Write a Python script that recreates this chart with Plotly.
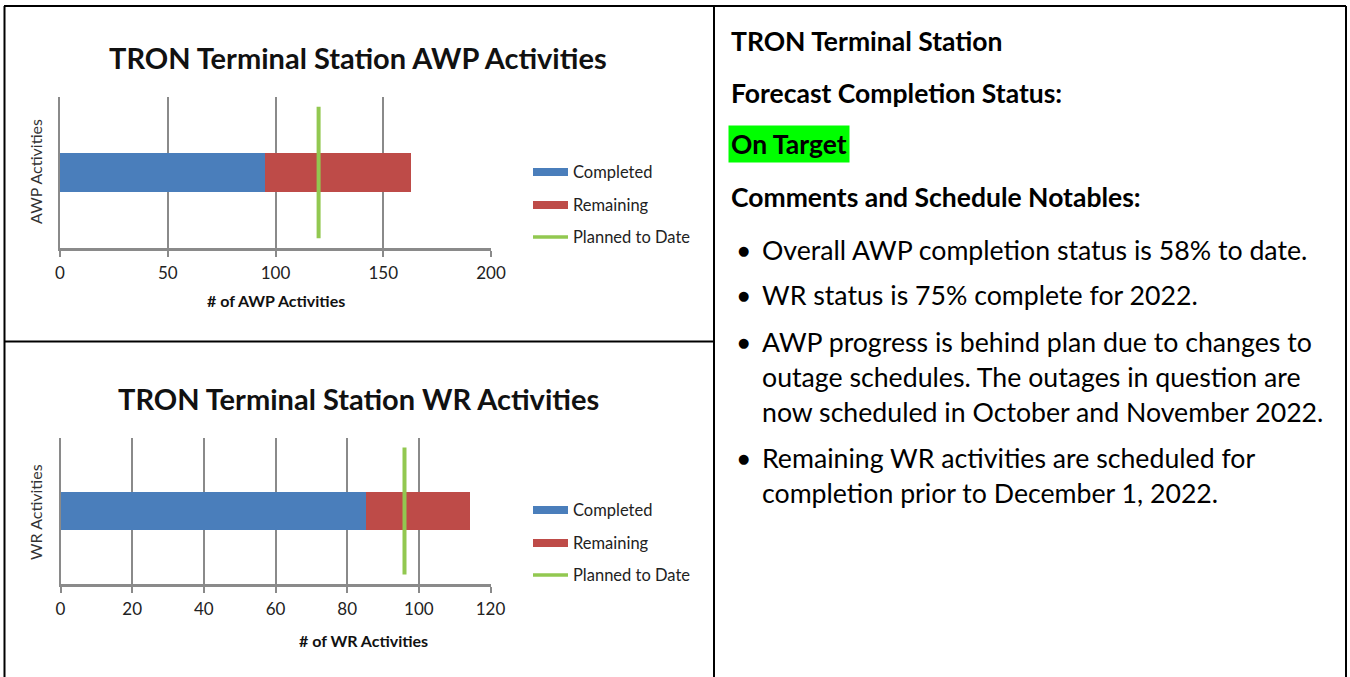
import plotly.graph_objects as go

# ---------------- data ----------------
series_names = ["Completed", "Remaining", "Planned to Date"]

awp_title = "TRON Terminal Station AWP Activities"
awp_category = "AWP Activities"
awp_axis_title = "# of AWP Activities"
awp_completed = [95]
awp_remaining = [68]
awp_planned = [120]
awp_ticks = [0, 50, 100, 150, 200]

wr_title = "TRON Terminal Station WR Activities"
wr_category = "WR Activities"
wr_axis_title = "# of WR Activities"
wr_completed = [85]
wr_remaining = [29]
wr_planned = [96]
wr_ticks = [0, 20, 40, 60, 80, 100, 120]

panel_heading = "TRON Terminal Station"
status_label = "Forecast Completion Status:"
status_value = "On Target"
comments_label = "Comments and Schedule Notables:"
bullets = [
    ["Overall AWP completion status is 58% to date."],
    ["WR status is 75% complete for 2022."],
    ["AWP progress is behind plan due to changes to",
     "outage schedules. The outages in question are",
     "now scheduled in October and November 2022."],
    ["Remaining WR activities are scheduled for",
     "completion prior to December 1, 2022."],
]

# ---------------- style ----------------
W, H = 1350, 677
FONT = "Lato"
BLUE = "#4A7EBB"
RED = "#BE4B48"
GREEN = "#92C850"
GRID = "#8A8A8A"
TXT = "#111111"
BAR_W = 0.26
LINE_HALF = 0.435


def X(px):
    return px / W


def Y(py):
    return 1 - py / H


charts = [
    dict(title=awp_title, cat=awp_category, xt=awp_axis_title,
         comp=awp_completed, rem=awp_remaining, plan=awp_planned, ticks=awp_ticks,
         box=(60, 491, 97, 248), title_y=57, xt_x=276, xt_y=300, yt_y=172,
         leg_y=[172, 205, 237]),
    dict(title=wr_title, cat=wr_category, xt=wr_axis_title,
         comp=wr_completed, rem=wr_remaining, plan=wr_planned, ticks=wr_ticks,
         box=(60.5, 490.5, 438, 584), title_y=398, xt_x=364, xt_y=640, yt_y=512,
         leg_y=[510, 543, 575]),
]

fig = go.Figure()
annotations = []
shapes = []
legend_colors = [BLUE, RED, GREEN]

for i, ch in enumerate(charts):
    sfx = "" if i == 0 else str(i + 1)
    xa, ya = "x" + sfx, "y" + sfx
    fig.add_trace(go.Bar(x=ch["comp"], y=[0] * len(ch["comp"]), orientation="h",
                         width=BAR_W, name=series_names[0],
                         marker=dict(color=BLUE, line_width=0),
                         xaxis=xa, yaxis=ya, showlegend=False))
    fig.add_trace(go.Bar(x=ch["rem"], y=[0] * len(ch["rem"]), orientation="h",
                         width=BAR_W, name=series_names[1],
                         marker=dict(color=RED, line_width=0),
                         xaxis=xa, yaxis=ya, showlegend=False))
    fig.add_trace(go.Scatter(x=[ch["plan"][0], ch["plan"][0]], y=[-LINE_HALF, LINE_HALF],
                             mode="lines", name=series_names[2],
                             line=dict(color=GREEN, width=4),
                             xaxis=xa, yaxis=ya, showlegend=False))
    l, r, t, b = ch["box"]
    fig.update_layout(**{
        "xaxis" + sfx: dict(domain=[X(l), X(r)], anchor=ya,
                            range=[ch["ticks"][0], ch["ticks"][-1]],
                            tickvals=ch["ticks"], showgrid=True, gridcolor=GRID,
                            gridwidth=1.5, zeroline=False, showline=True,
                            linecolor=GRID, linewidth=3, ticks="outside", ticklen=6,
                            tickwidth=1.5, tickcolor=GRID, ticklabelstandoff=2,
                            automargin=False,
                            tickfont=dict(family=FONT, size=17, color="#222")),
        "yaxis" + sfx: dict(domain=[Y(b), Y(t)], anchor=xa, range=[-0.5, 0.5],
                            showticklabels=False, showgrid=False, zeroline=False,
                            automargin=False,
                            showline=True, linecolor=GRID, linewidth=1.5),
    })
    # chart title
    annotations.append(dict(text="<b>%s</b>" % ch["title"], x=X(358), y=Y(ch["title_y"]),
                            xref="paper", yref="paper", showarrow=False,
                            xanchor="center", yanchor="middle",
                            font=dict(family=FONT, size=29, color=TXT)))
    # x axis title
    annotations.append(dict(text="<b>%s</b>" % ch["xt"], x=X(ch["xt_x"]), y=Y(ch["xt_y"]),
                            xref="paper", yref="paper", showarrow=False,
                            xanchor="center", yanchor="middle",
                            font=dict(family=FONT, size=16, color=TXT)))
    # y axis title
    annotations.append(dict(text=ch["cat"], x=X(35), y=Y(ch["yt_y"]), textangle=-90,
                            xref="paper", yref="paper", showarrow=False,
                            xanchor="center", yanchor="middle",
                            font=dict(family=FONT, size=16, color="#333")))
    # legend
    for k, name in enumerate(series_names):
        yc = ch["leg_y"][k]
        if k < 2:
            shapes.append(dict(type="rect", xref="paper", yref="paper",
                               x0=X(533), x1=X(568), y0=Y(yc - 4), y1=Y(yc + 4),
                               fillcolor=legend_colors[k], line_width=0))
        else:
            shapes.append(dict(type="line", xref="paper", yref="paper",
                               x0=X(533), x1=X(568), y0=Y(yc), y1=Y(yc),
                               line=dict(color=legend_colors[k], width=3.5)))
        annotations.append(dict(text=name, x=X(571), y=Y(yc), xref="paper", yref="paper",
                                showarrow=False, xanchor="left", yanchor="middle",
                                font=dict(family=FONT, size=16.5, color="#222")))

# ---------------- right text panel ----------------
HEAD_SIZE = 26.5
BODY_SIZE = 26.7
annotations.append(dict(text="<b>%s</b>" % panel_heading, x=X(729), y=Y(41),
                        xref="paper", yref="paper", showarrow=False,
                        xanchor="left", yanchor="middle",
                        font=dict(family=FONT, size=HEAD_SIZE, color="#000")))
annotations.append(dict(text="<b>%s</b>" % status_label, x=X(729), y=Y(93),
                        xref="paper", yref="paper", showarrow=False,
                        xanchor="left", yanchor="middle",
                        font=dict(family=FONT, size=HEAD_SIZE, color="#000")))
annotations.append(dict(text="<b>%s</b>" % status_value, x=X(728), y=Y(144),
                        xref="paper", yref="paper", showarrow=False,
                        xanchor="left", yanchor="middle", bgcolor="#00FF00",
                        borderpad=2,
                        font=dict(family=FONT, size=HEAD_SIZE, color="#000")))
annotations.append(dict(text="<b>%s</b>" % comments_label, x=X(729), y=Y(197),
                        xref="paper", yref="paper", showarrow=False,
                        xanchor="left", yanchor="middle",
                        font=dict(family=FONT, size=HEAD_SIZE, color="#000")))

line_ys = [[250], [295], [342, 377, 412], [458, 493]]
for lines, ys in zip(bullets, line_ys):
    annotations.append(dict(text="\u25CF", x=X(743), y=Y(ys[0]), xref="paper", yref="paper",
                            showarrow=False, xanchor="center", yanchor="middle",
                            font=dict(family="DejaVu Sans", size=13, color="#000")))
    for txt, yy in zip(lines, ys):
        annotations.append(dict(text=txt, x=X(760), y=Y(yy), xref="paper", yref="paper",
                                showarrow=False, xanchor="left", yanchor="middle",
                                font=dict(family=FONT, size=BODY_SIZE, color="#000")))

# ---------------- table borders ----------------
border = dict(color="#000", width=2)
for x0, y0, x1, y1 in [(4, 6, 1346, 6), (4.5, 6, 4.5, 677), (1346, 6, 1346, 677),
                       (714, 6, 714, 677), (4, 341.5, 714, 341.5)]:
    shapes.append(dict(type="line", xref="paper", yref="paper",
                       x0=X(x0), y0=Y(y0), x1=X(x1), y1=Y(y1), line=border))

fig.update_layout(width=W, height=H,
                  margin=dict(l=0, r=0, t=0, b=0, pad=0, autoexpand=False),
                  paper_bgcolor="white", plot_bgcolor="white", barmode="stack",
                  bargap=0, showlegend=False, annotations=annotations, shapes=shapes)

fig.write_html("out.html",
               config={"displayModeBar": False},
               post_script="document.body.style.margin='0';"
                           "document.body.style.padding='0';"
                           "document.body.style.overflow='hidden';")
